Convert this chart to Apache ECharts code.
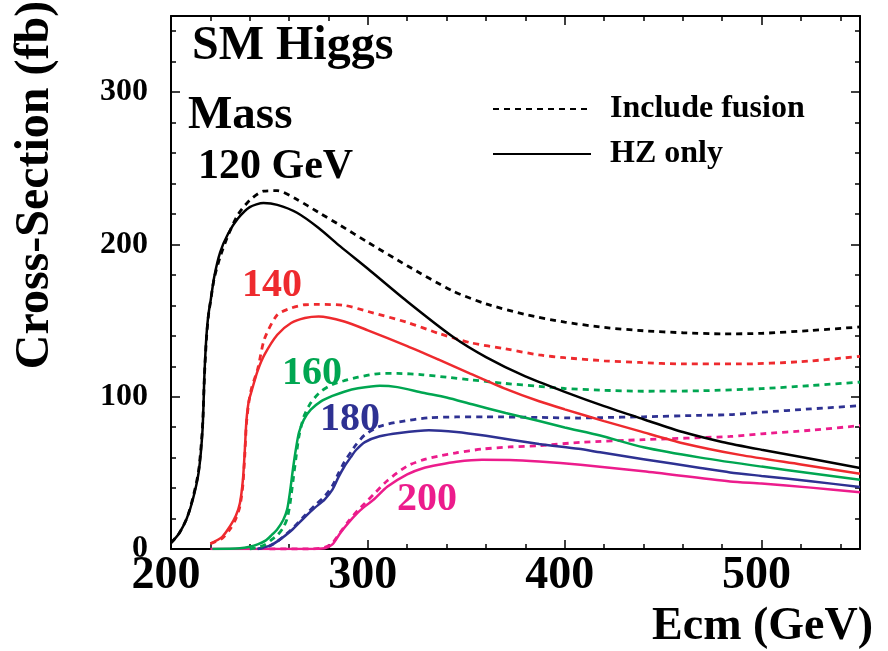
<!DOCTYPE html>
<html>
<head>
<meta charset="utf-8">
<title>SM Higgs cross-section</title>
<script src="https://cdn.jsdelivr.net/npm/echarts@6/dist/echarts.min.js"></script>
<style>
  html, body { margin: 0; padding: 0; background: #fff; }
  #chart { width: 888px; height: 651px; }
</style>
</head>
<body>
<div id="chart"></div>
<script>
// Ecm (GeV) and cross-section (fb)
// mass 120 GeV
const ecm120 = [200, 204, 208, 211, 214, 216, 217, 218, 219, 220, 222, 225, 229, 234, 240, 247, 254, 264, 275, 286, 300, 320, 343, 360, 380, 400, 420, 440, 460, 480, 500, 525, 550];
const hz120  = [4, 10, 20, 32, 50, 78, 115, 140, 154, 162, 179, 195, 207, 217, 224.5, 227.2, 226, 220.8, 210.8, 198.7, 184, 162.5, 139.5, 126, 113.3, 103.2, 93.8, 85.2, 76.8, 70.3, 65.2, 59.3, 53.2];
const fus120 = [4, 10, 20, 33, 51, 80, 114, 138, 153, 162, 178, 192, 206, 219.5, 229, 235, 235.3, 229.5, 221, 212.5, 201.4, 186, 169.5, 161, 154, 149, 145.5, 143.3, 142, 141.3, 141.6, 143.5, 145.8];
// mass 140 GeV
const ecm140 = [220, 226, 230, 233, 235, 236.5, 237.5, 238.3, 239.5, 241, 244, 247.5, 254, 261, 268, 275, 288, 300, 320, 336, 352, 370, 387, 400, 420, 438, 460, 489, 520, 550];
const hz140  = [3.5, 8, 15, 22, 30, 45, 65, 84, 97, 104, 117, 127.6, 140.7, 148.4, 151.7, 152.7, 149.4, 143.6, 133.2, 124.3, 115.2, 105.2, 97, 91.7, 84, 77.4, 69.5, 61.8, 55.5, 49.4];
const fus140 = [3.5, 7, 13, 20, 28, 42, 62, 82, 96, 106, 118, 138, 153.8, 158.2, 160.4, 160.6, 160, 156, 148.8, 141.6, 135.5, 131.4, 127.4, 125.6, 123.6, 122.5, 121.5, 121.5, 123, 126.5];
// mass 160 GeV
const ecm160 = [221, 235, 240, 244, 248, 251, 254, 257, 259, 260.5, 262, 263.5, 265, 267.5, 271, 276, 282, 288, 295, 306, 315, 328, 340, 353, 370, 387, 400, 418, 440, 469, 500, 525, 550];
const hz160  = [0, 0.5, 1.5, 3, 5.5, 9, 13, 19, 26, 38, 53, 66, 76.5, 85, 91.5, 96.8, 100.5, 103.3, 105.5, 107.2, 106.3, 102.6, 99.5, 95, 89.3, 84, 79.8, 74.5, 66.8, 60, 54.1, 49.8, 45.5];
const fus160 = [null, null, 0, 1, 3, 6, 9, 14, 20, 30, 45, 60, 74, 87, 96, 103.3, 108, 110.5, 112.8, 115.2, 115.3, 114.4, 112.8, 111, 108.7, 106.8, 105.4, 104.3, 103.6, 103.9, 105.3, 107.3, 109.6];
// mass 180 GeV
const ecm180 = [244, 250, 254, 261, 268, 273, 278, 282, 285, 288, 291.6, 294, 298.5, 306, 316, 331, 345, 360, 387, 407, 418, 440, 469, 484, 500, 525, 550];
const hz180  = [0, 2, 5, 12, 21, 27, 32.5, 39, 47, 54, 60.8, 65, 70.2, 74, 76.2, 77.9, 76.8, 74.3, 69, 65.8, 63.5, 59, 53.2, 50.3, 48, 44.5, 40.7];
const fus180 = [0, 2, 5, 12.5, 22, 28.5, 34.5, 41.5, 49.5, 57, 64, 68.5, 75, 80.5, 83.5, 86.2, 86.7, 86.8, 86.4, 86, 86.3, 86.8, 87.8, 88.2, 89.8, 92, 94.1];
// mass 200 GeV
const ecm200 = [220, 250, 270, 278, 282, 286, 290, 295, 298.5, 303, 310, 320, 328, 336, 345, 358, 372, 387, 408, 440, 484, 500, 525, 550];
const hz200  = [0, 0, 0, 0.5, 3, 10.5, 17, 24, 28, 32.5, 41, 49, 53, 55.3, 57.3, 58.6, 58.5, 57.5, 55.3, 51, 44.4, 43, 40.3, 37.3];
const fus200 = [null, 0, 0, 1, 4, 11, 18, 25.5, 30, 36, 45, 54.5, 58.5, 61, 63.2, 65.6, 67, 67.9, 70, 71.8, 73.9, 75.6, 78, 81];

const xTicks = [200, 300, 400, 500];
const yTicks = [0, 100, 200, 300];

const serif = '"Liberation Serif", "Times New Roman", serif';
const dots = [6, 5];

function pairs(xs, ys) {
    const out = [];
    xs.forEach((x, i) => {
        if (ys[i] != null) out.push([x, ys[i]]);
    });
    return out;
}

function curve(name, xs, ys, color, dotted) {
    return {
        name: name,
        type: 'line',
        xAxisIndex: 0,
        yAxisIndex: 0,
        data: pairs(xs, ys),
        symbol: 'none',
        smooth: 0.25,
        clip: true,
        lineStyle: { color: color, width: dotted ? 2.8 : 2.5, type: dotted ? dots : 'solid' },
        itemStyle: { color: color }
    };
}

const masses = [
    { m: 120, xs: ecm120, hz: hz120, fus: fus120, color: '#000000' },
    { m: 140, xs: ecm140, hz: hz140, fus: fus140, color: '#ee2a2e' },
    { m: 160, xs: ecm160, hz: hz160, fus: fus160, color: '#00a651' },
    { m: 180, xs: ecm180, hz: hz180, fus: fus180, color: '#2e3192' },
    { m: 200, xs: ecm200, hz: hz200, fus: fus200, color: '#ec1c8c' }
];

const series = [];
masses.slice().reverse().forEach(d => {
    series.push(curve(d.m + ' fusion', d.xs, d.fus, d.color, true));
    series.push(curve(d.m + ' HZ', d.xs, d.hz, d.color, false));
});
// legend-only entries
series.push({ name: 'Include fusion', type: 'line', data: [], symbol: 'none', showSymbol: false, color: '#000',
    lineStyle: { color: '#000', width: 2.8, type: dots } });
series.push({ name: 'HZ only', type: 'line', data: [], symbol: 'none', showSymbol: false, color: '#000',
    lineStyle: { color: '#000', width: 2.5, type: 'solid' } });

const black = { color: '#000', width: 2 };
const tickMajor = { show: true, inside: true, length: 9, lineStyle: { color: '#000', width: 1.5 } };
const tickMinor = { show: true, inside: true, length: 5, lineStyle: { color: '#000', width: 1.5 } };

function xAx(pos, interval, tick, line, label) {
    return {
        type: 'value', position: pos, min: 200, max: 550, interval: interval,
        axisLine: { show: line, onZero: false, lineStyle: black },
        axisTick: tick,
        splitLine: { show: false },
        axisLabel: label ? {
            color: '#000', fontFamily: serif, fontWeight: 'bold', fontSize: 46,
            margin: 4, showMaxLabel: false, padding: [0, 10, 0, 0],
            formatter: v => xTicks.includes(v) ? String(v) : ''
        } : { show: false }
    };
}

function yAx(pos, interval, tick, line, label) {
    return {
        type: 'value', position: pos, min: 0, max: 350, interval: interval,
        axisLine: { show: line, onZero: false, lineStyle: black },
        axisTick: tick,
        splitLine: { show: false },
        axisLabel: label ? {
            color: '#000', fontFamily: serif, fontWeight: 'bold', fontSize: 32,
            margin: 23, showMaxLabel: false,
            formatter: v => yTicks.includes(v) ? String(v) : ''
        } : { show: false }
    };
}

const chart = echarts.init(document.getElementById('chart'));
chart.setOption({
    animation: false,
    backgroundColor: '#fff',
    grid: { left: 171, right: 28, top: 16, bottom: 102 },
    xAxis: [
        xAx('bottom', 100, tickMajor, true, true),
        xAx('bottom', 20, tickMinor, false, false),
        xAx('top', 100, tickMajor, true, false),
        xAx('top', 20, tickMinor, false, false)
    ],
    yAxis: [
        yAx('left', 100, tickMajor, true, true),
        yAx('left', 20, tickMinor, false, false),
        yAx('right', 100, tickMajor, true, false),
        yAx('right', 20, tickMinor, false, false)
    ],
    legend: {
        data: ['Include fusion', 'HZ only'],
        orient: 'vertical',
        left: 492,
        top: 93,
        padding: 0,
        itemWidth: 98,
        itemHeight: 14,
        itemGap: 13,
        selectedMode: false,
        itemStyle: { opacity: 0 },
        textStyle: { color: '#000', fontFamily: serif, fontWeight: 'bold', fontSize: 32, padding: [0, 0, 0, 14] }
    },
    graphic: [
        { type: 'text', x: 192, y: 47, style: { text: 'SM Higgs', font: 'bold 48px ' + serif, fill: '#000', verticalAlign: 'middle', textVerticalAlign: 'middle' } },
        { type: 'text', x: 188, y: 116, style: { text: 'Mass', font: 'bold 47px ' + serif, fill: '#000', verticalAlign: 'middle', textVerticalAlign: 'middle' } },
        { type: 'text', x: 198, y: 167, style: { text: '120 GeV', font: 'bold 42px ' + serif, fill: '#000', verticalAlign: 'middle', textVerticalAlign: 'middle' } },
        { type: 'text', x: 242, y: 286, style: { text: '140', font: 'bold 40px ' + serif, fill: '#ee2a2e', verticalAlign: 'middle', textVerticalAlign: 'middle' } },
        { type: 'text', x: 282, y: 374, style: { text: '160', font: 'bold 40px ' + serif, fill: '#00a651', verticalAlign: 'middle', textVerticalAlign: 'middle' } },
        { type: 'text', x: 320, y: 420, style: { text: '180', font: 'bold 40px ' + serif, fill: '#2e3192', verticalAlign: 'middle', textVerticalAlign: 'middle' } },
        { type: 'text', x: 397, y: 500, style: { text: '200', font: 'bold 40px ' + serif, fill: '#ec1c8c', verticalAlign: 'middle', textVerticalAlign: 'middle' } },
        // axis titles
        { type: 'text', x: 36, y: 185, rotation: Math.PI / 2,
          style: { text: 'Cross-Section (fb)', font: 'bold 48px ' + serif, fill: '#000', align: 'center', textAlign: 'center', verticalAlign: 'middle', textVerticalAlign: 'middle' } },
        { type: 'text', x: 873, y: 627,
          style: { text: 'Ecm (GeV)', font: 'bold 46px ' + serif, fill: '#000', align: 'right', textAlign: 'right', verticalAlign: 'middle', textVerticalAlign: 'middle' } }
    ],
    series: series
});
</script>
</body>
</html>
